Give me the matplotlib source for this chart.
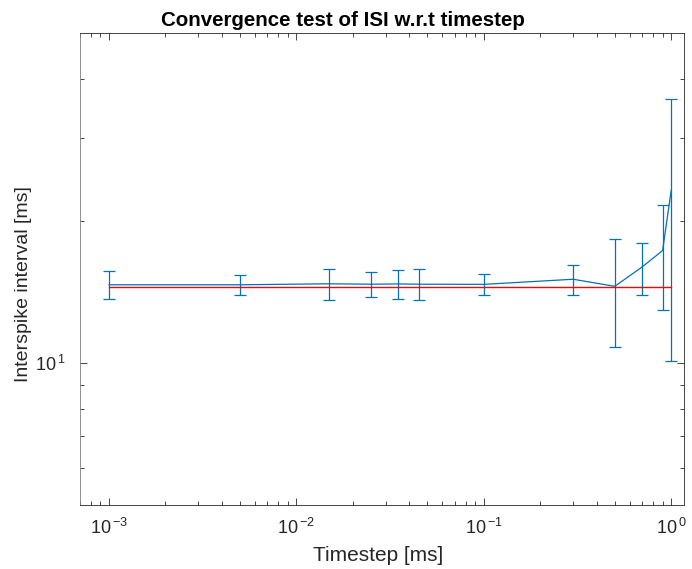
import matplotlib
matplotlib.use('Agg')
import matplotlib.pyplot as plt
from matplotlib.ticker import LogLocator, NullFormatter, FixedLocator

plt.rcParams['font.family'] = ['Liberation Sans', 'DejaVu Sans']
plt.rcParams['mathtext.fontset'] = 'custom'
plt.rcParams['mathtext.rm'] = 'Liberation Sans'
plt.rcParams['axes.unicode_minus'] = False

# timestep values and measured ISI (mean +- std)
timestep = [0.001, 0.005, 0.015, 0.025, 0.035, 0.045, 0.1, 0.3, 0.5, 0.7, 0.9, 1.0]
isi_mean = [14.64, 14.64, 14.71, 14.68, 14.70, 14.68, 14.67, 15.04, 14.53, 15.97, 17.30, 23.20]
isi_err = [1.00, 0.71, 1.12, 0.87, 1.05, 1.11, 0.77, 1.09, 3.74, 2.02, 4.35, 13.10]
reference_isi = 14.45

xtick_vals = [1e-3, 1e-2, 1e-1, 1e0]
xtick_labels = ['10$^{\\,\\mathregular{-3}}$', '10$^{\\,\\mathregular{-2}}$',
                '10$^{\\,\\mathregular{-1}}$', '10$^{\\,\\mathregular{0}}$']
ytick_vals = [10]
ytick_labels = ['10$^{\\,\\mathregular{1}}$']

blue = '#0072BD'
axis_grey = '#262626'

fig = plt.figure(figsize=(6.92, 5.69), dpi=100)
ax = fig.add_axes([0.1156, 0.1125, 0.8728, 0.8295])

ax.errorbar(timestep, isi_mean, yerr=isi_err, color=blue, lw=0.9,
            elinewidth=0.9, capsize=4, capthick=0.9, zorder=2)
ax.plot([timestep[0], timestep[-1]], [reference_isi, reference_isi],
        color='#FF0000', lw=1.0, zorder=3)

ax.set_xscale('log')
ax.set_yscale('log')
ax.set_xlim(0.0007, 1.17)
ax.set_ylim(5, 50)

ax.set_xticks(xtick_vals)
ax.set_xticklabels(xtick_labels)
ax.xaxis.set_minor_locator(LogLocator(base=10, subs=range(2, 10)))
ax.xaxis.set_minor_formatter(NullFormatter())

ax.yaxis.set_major_locator(FixedLocator(ytick_vals))
ax.set_yticklabels(ytick_labels)
ax.yaxis.set_minor_locator(FixedLocator([6, 7, 8, 9, 20, 30, 40]))
ax.yaxis.set_minor_formatter(NullFormatter())

ax.tick_params(which='both', direction='in', top=True, right=True,
               colors=axis_grey, labelsize=13, width=0.6)
ax.tick_params(which='major', length=5)
ax.tick_params(which='minor', length=3)
ax.tick_params(axis='x', which='major', pad=9)
ax.tick_params(axis='y', which='major', pad=10)
for sp in ax.spines.values():
    sp.set_color(axis_grey)
    sp.set_linewidth(0.6)
ax.spines['left'].set_color('#808080')

ax.set_xlabel('Timestep [ms]', fontsize=15, color=axis_grey)
ax.xaxis.set_label_coords(0.493, -0.086)
ax.set_ylabel('Interspike interval [ms]', fontsize=14, color=axis_grey)
ax.yaxis.set_label_coords(-0.08, 0.468)
ax.set_title('Convergence test of ISI w.r.t timestep', fontsize=14.8,
             fontweight='bold', pad=5, x=0.435)

fig.savefig('out.png', dpi=100)
